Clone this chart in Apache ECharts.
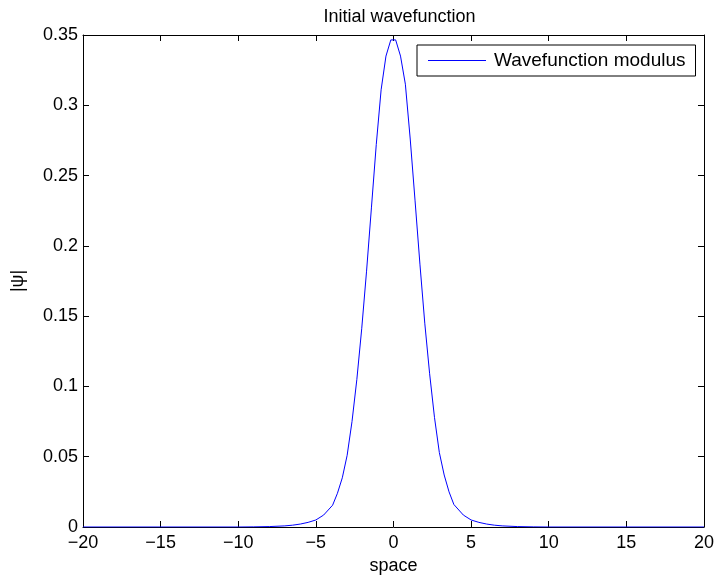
<!DOCTYPE html>
<html>
<head>
<meta charset="utf-8">
<script src="https://cdn.jsdelivr.net/npm/echarts@6/dist/echarts.min.js"></script>
<style>
html,body{margin:0;padding:0;background:#fff;}
#chart{width:717px;height:580px;}
</style>
</head>
<body>
<div id="chart"></div>
<script>
// ---- data ----
const titleText = 'Initial wavefunction';
const xName = 'space';
const yName = '|\u03c8|';
const seriesName = 'Wavefunction modulus';

const xValues = [-20, -10, -9, -8, -7, -6.5, -6, -5.5, -5, -4.5, -3.9225, -3.61, -3.2975, -2.985, -2.6725,
  -2.36, -2.0475, -1.735, -1.4225, -1.11, -0.7975, -0.485, -0.1725, 0.14, 0.4525, 0.765, 1.0775, 1.39,
  1.7025, 2.015, 2.3275, 2.64, 2.9525, 3.265, 3.5775, 3.89, 4.5, 5, 5.5, 6, 6.5, 7, 8, 9, 10, 20];
const psiModulus = [0, 0, 0.0001, 0.0003, 0.0008, 0.0013, 0.0021, 0.0033, 0.005, 0.0085, 0.0155, 0.024, 0.035, 0.051, 0.075,
  0.105, 0.141, 0.182, 0.227, 0.272, 0.311, 0.335, 0.3465, 0.3465, 0.335, 0.315, 0.276, 0.232,
  0.187, 0.145, 0.109, 0.078, 0.053, 0.037, 0.025, 0.016, 0.0085, 0.005, 0.0033, 0.0021, 0.0013, 0.0008, 0.0003, 0.0001, 0, 0];

const xTicks = [-20, -15, -10, -5, 0, 5, 10, 15, 20];
const xTickLabels = ['\u221220', '\u221215', '\u221210', '\u22125', '0', '5', '10', '15', '20'];
const yTicks = [0, 0.05, 0.1, 0.15, 0.2, 0.25, 0.3, 0.35];
const yTickLabels = ['0', '0.05', '0.1', '0.15', '0.2', '0.25', '0.3', '0.35'];

// ---- chart ----
const FONT = '"Liberation Sans", Arial, Helvetica, sans-serif';
const FS = 18;
const chart = echarts.init(document.getElementById('chart'), null, {renderer: 'canvas'});

function lookup(ticks, labels) {
  return function (v) {
    for (let i = 0; i < ticks.length; i++) {
      if (Math.abs(ticks[i] - v) < 1e-9) return labels[i];
    }
    return '';
  };
}

const data = xValues.map((x, i) => [x, psiModulus[i]]);

const axisCommon = {
  axisLine: {show: true, onZero: false, lineStyle: {color: '#000', width: 1}},
  axisTick: {show: true, inside: true, length: 6, lineStyle: {color: '#000', width: 1}},
  splitLine: {show: false}
};

const option = {
  backgroundColor: '#fff',
  animation: false,
  title: {
    text: titleText,
    left: 394.5,
    textAlign: 'center',
    top: 3,
    textStyle: {fontFamily: FONT, fontSize: FS, fontWeight: 'normal', color: '#000'}
  },
  legend: {
    show: true,
    left: 417,
    top: 45,
    padding: [6, 10, 6, 11],
    icon: 'rect',
    itemWidth: 58,
    itemHeight: 1,
    itemGap: 0,
    borderColor: '#000',
    borderWidth: 1,
    backgroundColor: '#fff',
    itemStyle: {color: '#0000ff', borderWidth: 0},
    textStyle: {fontFamily: FONT, fontSize: 19, color: '#000', padding: [0, 0, 0, 3]},
    data: [seriesName]
  },
  grid: {left: 83, right: 11, top: 35, bottom: 53, containLabel: false},
  xAxis: [
    Object.assign({
      type: 'value', position: 'bottom', min: -20, max: 20, interval: 5,
      name: xName, nameLocation: 'middle', nameGap: 29,
      nameTextStyle: {fontFamily: FONT, fontSize: FS, color: '#000'},
      axisLabel: {show: true, margin: 7, color: '#000', fontFamily: FONT, fontSize: FS,
        formatter: lookup(xTicks, xTickLabels)}
    }, axisCommon),
    Object.assign({
      type: 'value', position: 'top', min: -20, max: 20, interval: 5,
      axisLabel: {show: false}
    }, axisCommon)
  ],
  yAxis: [
    Object.assign({
      type: 'value', position: 'left', min: 0, max: 0.35, interval: 0.05,
      name: yName, nameLocation: 'middle', nameGap: 56, nameRotate: 90,
      nameTextStyle: {fontFamily: FONT, fontSize: FS, color: '#000'},
      axisLabel: {show: true, margin: 5, color: '#000', fontFamily: FONT, fontSize: FS,
        formatter: lookup(yTicks, yTickLabels)}
    }, axisCommon),
    Object.assign({
      type: 'value', position: 'right', min: 0, max: 0.35, interval: 0.05,
      axisLabel: {show: false}
    }, axisCommon)
  ],
  series: [{
    name: seriesName,
    type: 'line',
    xAxisIndex: 0,
    yAxisIndex: 0,
    data: data,
    symbol: 'none',
    showSymbol: false,
    smooth: false,
    clip: true,
    lineStyle: {color: '#0000ff', width: 1},
    itemStyle: {color: '#0000ff'},
    z: 3
  }]
};
chart.setOption(option);
</script>
</body>
</html>
